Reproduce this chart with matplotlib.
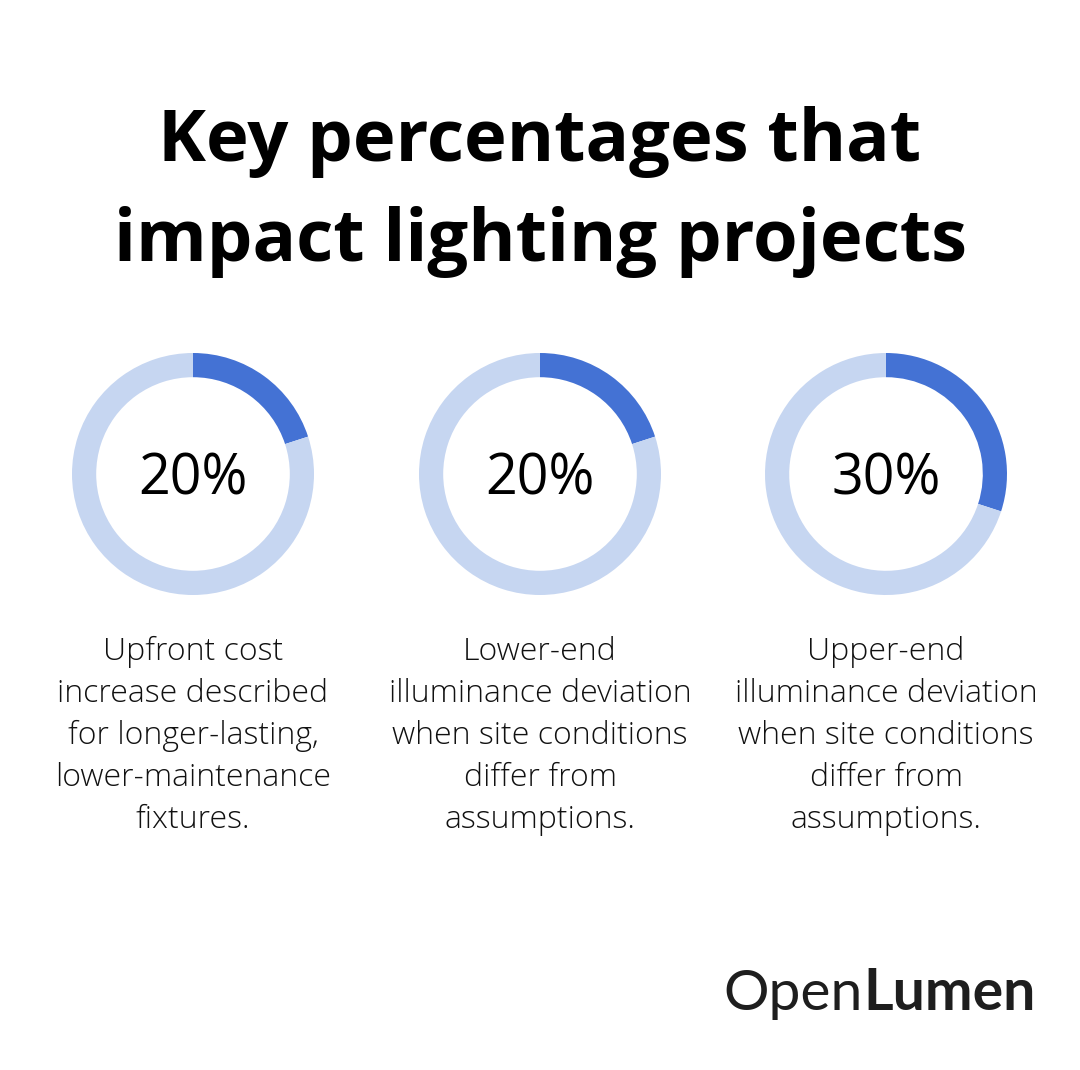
import matplotlib.pyplot as plt

pcts = [20, 20, 30]
labels = ["20%", "20%", "30%"]
descs = [
    "Upfront cost\nincrease described\nfor longer-lasting,\nlower-maintenance\nfixtures.",
    "Lower-end\nilluminance deviation\nwhen site conditions\ndiffer from\nassumptions.",
    "Upper-end\nilluminance deviation\nwhen site conditions\ndiffer from\nassumptions.",
]
title = "Key percentages that\nimpact lighting projects"

W, H = 1080, 1070
dark = "#4472d4"
light = "#c6d6f1"

fig = plt.figure(figsize=(W / 100, H / 100), dpi=100)
fig.patch.set_facecolor("white")

fig.text(0.5, 1 - 192 / H, title, ha="center", va="center", fontsize=52,
         fontweight="bold", family="Open Sans", linespacing=1.5)

centers = [193, 540, 886]
cy = 474
r = 121
for i, cx in enumerate(centers):
    ax = fig.add_axes([(cx - r) / W, 1 - (cy + r) / H, 2 * r / W, 2 * r / H])
    ax.pie([pcts[i], 100 - pcts[i]], colors=[dark, light], startangle=90,
           counterclock=False, radius=1,
           wedgeprops=dict(width=0.2, linewidth=0))
    ax.set_xlim(-1, 1)
    ax.set_ylim(-1, 1)
    ax.set_aspect("equal")
    ax.axis("off")
    ax.text(0, -0.05, labels[i], ha="center", va="center", fontsize=40,
            family="Open Sans", color="black")
    fig.text(cx / W, 1 - 736 / H, descs[i], ha="center", va="center",
             fontsize=23, family="Open Sans", fontweight="light",
             linespacing=1.41, color="#111111")

# logo
t1 = fig.text(723 / W, 1 - 1010 / H, "Open", ha="left", va="baseline",
              fontsize=41, family="Lato", color="#1e1e1e")
rend = fig.canvas.get_renderer()
bb = t1.get_window_extent(rend)
fig.text(bb.x1 / W + 1 / W, 1 - 1010 / H, "Lumen", ha="left", va="baseline",
         fontsize=41, family="Lato", fontweight="bold", color="#1e1e1e")

fig.savefig("out.png", dpi=100, facecolor="white")
